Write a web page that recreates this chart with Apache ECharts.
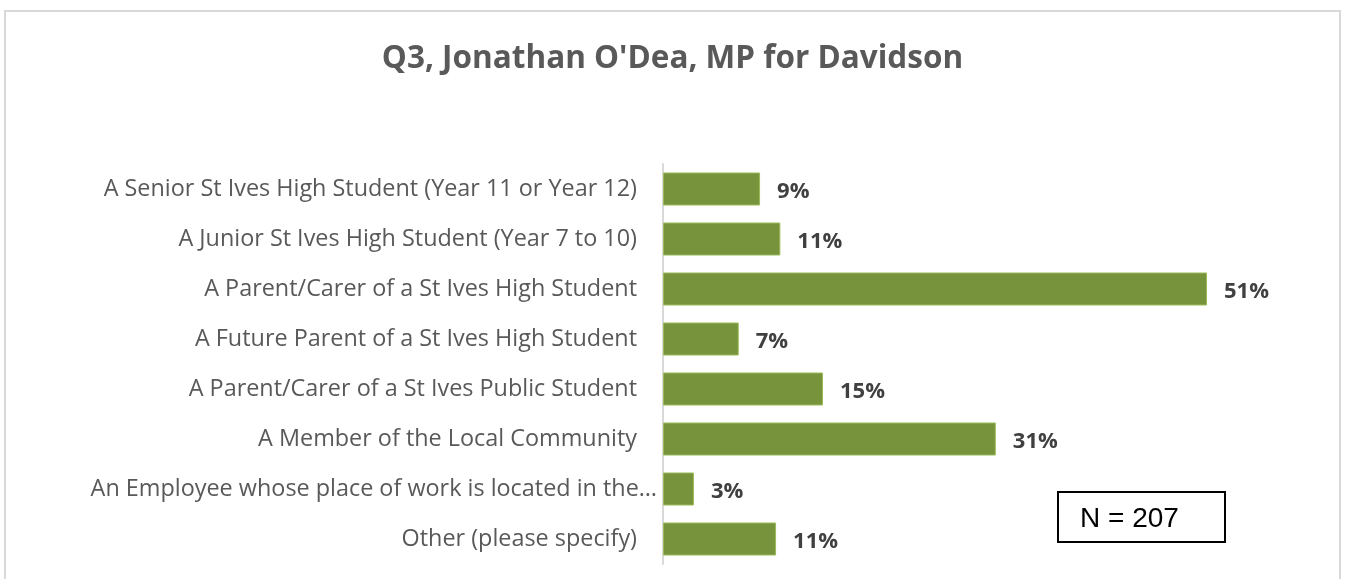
<!DOCTYPE html>
<html><head><meta charset="utf-8">
<script src="https://cdn.jsdelivr.net/npm/echarts@6/dist/echarts.min.js"></script>
<style>html,body{margin:0;padding:0;background:#fff}#c{width:1345px;height:579px}</style>
</head><body><div id="c"></div>
<script>
const titleText = "Q3, Jonathan O'Dea, MP for Davidson";
const categories = [
  "A Senior St Ives High Student (Year 11 or Year 12)",
  "A Junior St Ives High Student (Year 7 to 10)",
  "A Parent/Carer of a St Ives High Student",
  "A Future Parent of a St Ives High Student",
  "A Parent/Carer of a St Ives Public Student",
  "A Member of the Local Community",
  "An Employee whose place of work is located in the…",
  "Other (please specify)"
];
const values = [9.1, 11.0, 51.0, 7.1, 15.0, 31.2, 2.9, 10.6];
const noteText = "N = 207";

const yData = categories.map((c, i) => i === 6
  ? {value: c, textStyle: {padding: [4, -20, 0, 0]}}
  : c);

const chart = echarts.init(document.getElementById('c'));
chart.setOption({
  animation: false,
  title: {
    text: titleText, left: 'center', top: 38,
    textStyle: {fontFamily: 'Open Sans', fontWeight: 'bold', fontSize: 31.5, color: '#595959'}
  },
  grid: {left: 663, right: 42, top: 164, bottom: 15, containLabel: false},
  xAxis: {type: 'value', min: 0, max: 60, show: false},
  yAxis: {
    type: 'category', data: yData, inverse: true,
    axisLine: {show: true, lineStyle: {color: '#d9d9d9', width: 2}},
    axisTick: {show: false},
    axisLabel: {margin: 26, padding: [4, 0, 0, 0], fontFamily: 'Open Sans', fontSize: 23.4, color: '#595959'}
  },
  series: [{
    type: 'bar', data: values, barWidth: '66%',
    itemStyle: {color: '#77933c', borderColor: '#9bbb59', borderWidth: 1},
    label: {
      show: true, position: 'right', distance: 17, offset: [0, 3],
      formatter: p => Math.round(p.value) + '%',
      fontFamily: 'Open Sans', fontWeight: 'bold', fontSize: 22, color: '#404040'
    }
  }],
  graphic: [
    {type: 'rect', shape: {x: 5, y: 11, width: 1335, height: 600},
     style: {fill: 'none', stroke: '#d9d9d9', lineWidth: 2}, silent: true},
    {type: 'rect', shape: {x: 1058, y: 492, width: 167, height: 50},
     style: {fill: '#fff', stroke: '#000', lineWidth: 2}},
    {type: 'text', x: 1080, y: 519,
     style: {text: noteText, fontFamily: 'Liberation Sans', fontSize: 28, fill: '#000', verticalAlign: 'middle'}}
  ]
});
</script></body></html>
